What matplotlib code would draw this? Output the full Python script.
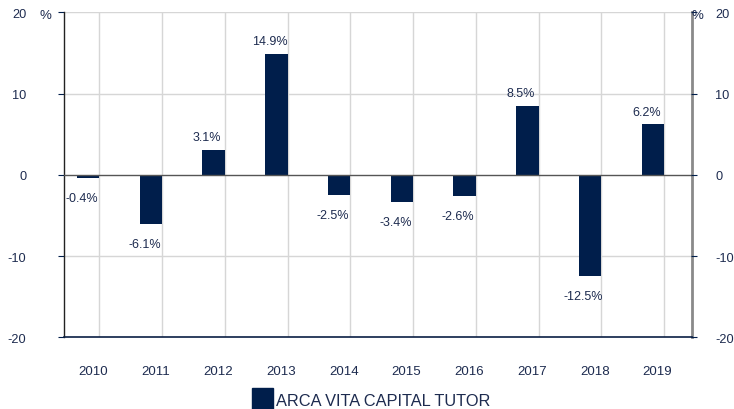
import matplotlib
matplotlib.use("Agg")
import matplotlib.pyplot as plt
import numpy as np

years = ["2010", "2011", "2012", "2013", "2014", "2015", "2016", "2017", "2018", "2019"]
returns = [-0.4, -6.1, 3.1, 14.9, -2.5, -3.4, -2.6, 8.5, -12.5, 6.2]
value_labels = ["-0.4%", "-6.1%", "3.1%", "14.9%", "-2.5%", "-3.4%", "-2.6%", "8.5%", "-12.5%", "6.2%"]
y_ticks = [-20, -10, 0, 10, 20]
series_name = "ARCA VITA CAPITAL TUTOR"

plt.rcParams['font.family'] = ['Liberation Sans', 'DejaVu Sans']
NAVY = "#001E4B"
TXT = "#1D2B4F"

fig = plt.figure(figsize=(7.34, 4.10), dpi=100)
ax = fig.add_axes([64/734, 1-338.3/410, (691.5-64)/734, (338.3-13.3)/410])

x = np.arange(len(years))
ax.set_xlim(-0.5, len(years) - 0.5)
ax.set_ylim(-20, 20)

# gridlines
for xi in x:
    ax.axvline(xi + 0.065, color="#d6d6d6", lw=1.0, zorder=0)
for yv in [10, -10, 20]:
    ax.axhline(yv, color="#d6d6d6", lw=1.0, zorder=0)

ax.bar(x - 0.115, returns, width=0.36, color=NAVY, zorder=3)
ax.axhline(0, color="#555555", lw=1.0, zorder=4)

for xi, v, lab in zip(x, returns, value_labels):
    if v >= 0:
        ax.annotate(lab, (xi - 0.22, v), xytext=(0, 7), textcoords="offset points",
                    ha="center", va="baseline", fontsize=9, color=TXT, zorder=5)
    else:
        ax.annotate(lab, (xi - 0.22, v), xytext=(0, -10), textcoords="offset points",
                    ha="center", va="top", fontsize=9, color=TXT, zorder=5)

# axes styling
ax.spines['top'].set_visible(False)
ax.spines['left'].set_color("#222222")
ax.spines['left'].set_linewidth(1.0)
ax.spines['right'].set_color("#8a8a8a")
ax.spines['right'].set_linewidth(2.0)
ax.spines['bottom'].set_color("#0a1f44")
ax.spines['bottom'].set_linewidth(1.2)

ax.set_xticks(x - 0.04)
ax.set_xticklabels(years, fontsize=9.5, color=TXT)
ax.tick_params(axis='x', length=0, pad=20)

ax.set_yticks(y_ticks)
ax.set_yticklabels([str(t) for t in y_ticks], fontsize=9.2, color=TXT)
ax.tick_params(axis='y', which='both', length=4, color=NAVY, pad=23, left=True, right=True,
               labelleft=True, labelright=False)

ax2 = ax.twinx()
ax2.set_ylim(-20, 20)
ax2.set_yticks(y_ticks)
ax2.set_yticklabels([str(t) for t in y_ticks], fontsize=9.2, color=TXT)
ax2.tick_params(axis='y', length=4, color=NAVY, pad=13)
for s in ax2.spines.values():
    s.set_visible(False)

fig.text(40/734, 1-16/410, "%", fontsize=9.5, color=TXT, ha="left", va="center")
fig.text(691/734, 1-16/410, "%", fontsize=9.5, color=TXT, ha="left", va="center")

# legend
fig.patches.append(matplotlib.patches.Rectangle((252/734, 0), 21/734, 21/410,
                                                transform=fig.transFigure, color=NAVY))
fig.text(276/734, 1-401.5/410, series_name, fontsize=11.8, color=TXT, ha="left", va="center")

fig.savefig("out.png", dpi=100)
